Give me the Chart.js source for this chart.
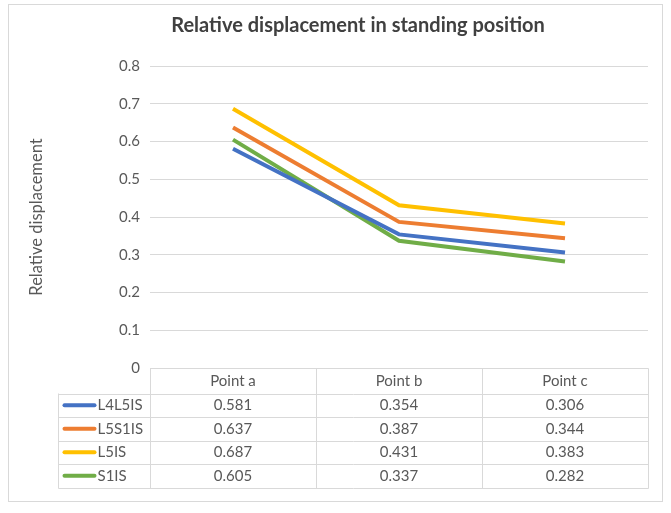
<!DOCTYPE html>
<html>
<head>
<meta charset="utf-8">
<script src="https://cdn.jsdelivr.net/npm/chart.js@4.4.1/dist/chart.umd.min.js"></script>
<style>
  html, body { margin: 0; padding: 0; background: #fff; }
  #wrap { width: 671px; height: 513px; }
</style>
</head>
<body>
<div id="wrap"><canvas id="chart" width="671" height="513"></canvas></div>
<script>
// Data
const categories = ['Point a', 'Point b', 'Point c'];
const seriesNames = ['L4L5IS', 'L5S1IS', 'L5IS', 'S1IS'];
const l4l5is = [0.581, 0.354, 0.306];
const l5s1is = [0.637, 0.387, 0.344];
const l5is = [0.687, 0.431, 0.383];
const s1is = [0.605, 0.337, 0.282];
const yMin = 0;
const yMax = 0.8;
const yStep = 0.1;

const seriesValues = [l4l5is, l5s1is, l5is, s1is];
const seriesColors = ['#4472C4', '#ED7D31', '#FFC000', '#70AD47'];

const chartTitle = 'Relative displacement in standing position';
const textColor = '#595959';
const lineColor = '#d9d9d9';
const fontFamily = 'Lato, "Open Sans", sans-serif';

// white background, outer frame and the title (Excel puts it a bit right of centre)
const frame = {
    id: 'frame',
    beforeDraw(chart) {
        const ctx = chart.ctx;
        ctx.save();
        ctx.fillStyle = '#ffffff';
        ctx.fillRect(0, 0, chart.width, chart.height);
        ctx.strokeStyle = lineColor;
        ctx.lineWidth = 1;
        ctx.strokeRect(8.5, 4.5, 654, 497);
        ctx.font = 'bold 20px ' + fontFamily;
        ctx.fillStyle = '#404040';
        ctx.textAlign = 'center';
        ctx.textBaseline = 'middle';
        ctx.fillText(chartTitle, 358, 26);
        ctx.restore();
    }
};

// data table under the plot, column positions come from the x scale
const dataTable = {
    id: 'dataTable',
    afterDraw(chart) {
        const { ctx, chartArea } = chart;
        const xScale = chart.scales.x;
        const colW = (chartArea.right - chartArea.left) / categories.length;
        const top = Math.round(chartArea.bottom) + 0.5;
        const headH = 25;
        const rowH = 23.5;
        const labelLeft = 58.5;
        const bottom = top + headH + rowH * seriesNames.length;
        const left = Math.round(chartArea.left) + 0.5;
        const right = Math.round(chartArea.right) + 0.5;

        ctx.save();
        ctx.strokeStyle = lineColor;
        ctx.lineWidth = 1;
        ctx.beginPath();
        ctx.moveTo(left, top);
        ctx.lineTo(right, top);
        for (let r = 0; r <= seriesNames.length; r++) {
            const y = Math.round(top + headH + r * rowH) + 0.5;
            ctx.moveTo(labelLeft, y);
            ctx.lineTo(right, y);
        }
        ctx.moveTo(labelLeft, top + headH);
        ctx.lineTo(labelLeft, Math.round(bottom) + 0.5);
        for (let c = 0; c <= categories.length; c++) {
            const x = Math.round(chartArea.left + c * colW) + 0.5;
            ctx.moveTo(x, top);
            ctx.lineTo(x, Math.round(bottom) + 0.5);
        }
        ctx.stroke();

        ctx.font = '15px ' + fontFamily;
        ctx.fillStyle = textColor;
        ctx.textBaseline = 'middle';
        ctx.textAlign = 'center';
        categories.forEach((cat, i) => {
            ctx.fillText(cat, xScale.getPixelForValue(i), top + headH / 2);
        });

        seriesNames.forEach((name, r) => {
            const cy = top + headH + r * rowH + rowH / 2;
            ctx.strokeStyle = seriesColors[r];
            ctx.lineWidth = 4;
            ctx.lineCap = 'round';
            ctx.beginPath();
            ctx.moveTo(labelLeft + 6, cy);
            ctx.lineTo(labelLeft + 36, cy);
            ctx.stroke();
            ctx.textAlign = 'left';
            ctx.fillStyle = textColor;
            ctx.fillText(name, labelLeft + 39, cy);
            ctx.textAlign = 'center';
            seriesValues[r].forEach((v, i) => {
                ctx.fillText(String(v), xScale.getPixelForValue(i), cy);
            });
        });
        ctx.restore();
    }
};

const ctx = document.getElementById('chart').getContext('2d');
new Chart(ctx, {
    type: 'line',
    data: {
        labels: categories,
        datasets: seriesNames.map((name, i) => ({
            label: name,
            data: seriesValues[i],
            borderColor: seriesColors[i],
            backgroundColor: seriesColors[i],
            borderWidth: 4,
            pointRadius: 0,
            tension: 0
        }))
    },
    options: {
        responsive: false,
        animation: false,
        devicePixelRatio: 1,
        layout: {
            padding: { left: 0, right: 23, top: 66, bottom: 145 }
        },
        plugins: {
            legend: { display: false },
            tooltip: { enabled: false },
            title: { display: false }
        },
        scales: {
            x: {
                type: 'category',
                offset: true,
                display: false
            },
            y: {
                min: yMin,
                max: yMax,
                ticks: {
                    stepSize: yStep,
                    color: textColor,
                    font: { family: fontFamily, size: 15 },
                    padding: 10,
                    callback: v => (Math.round(v * 10) / 10).toString()
                },
                grid: { color: lineColor, drawTicks: false },
                border: { display: false },
                title: {
                    display: true,
                    text: 'Relative displacement',
                    color: textColor,
                    font: { family: fontFamily, size: 16.5 },
                    padding: { top: 27, bottom: 0 }
                },
                afterFit(scale) {
                    scale.width = 150;
                }
            }
        }
    },
    plugins: [frame, dataTable]
});
</script>
</body>
</html>
